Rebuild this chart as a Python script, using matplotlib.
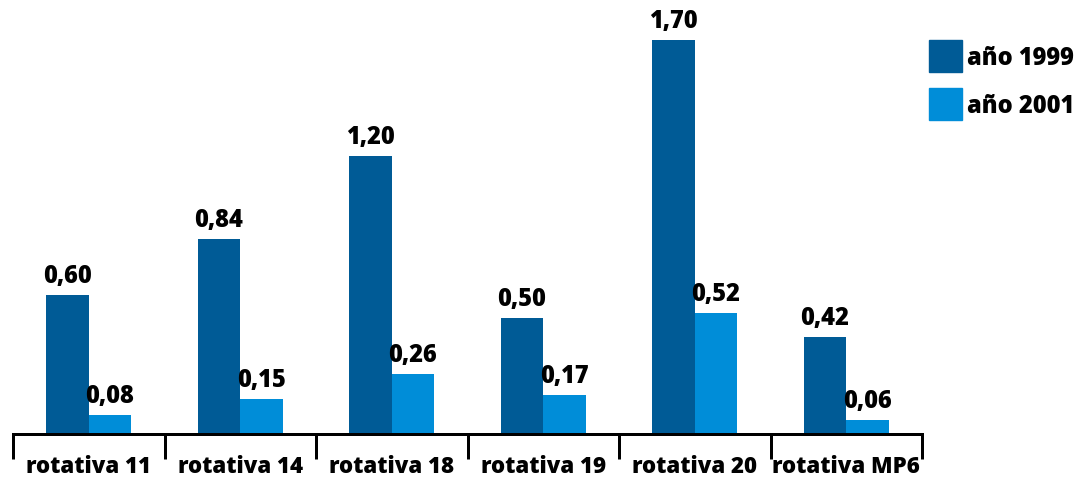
import matplotlib
matplotlib.use("Agg")
import matplotlib.pyplot as plt
from matplotlib.patches import Patch

categories = ["rotativa 11", "rotativa 14", "rotativa 18", "rotativa 19", "rotativa 20", "rotativa MP6"]
values_1999 = [0.60, 0.84, 1.20, 0.50, 1.70, 0.42]
values_2001 = [0.08, 0.15, 0.26, 0.17, 0.52, 0.06]
series_labels = ["año 1999", "año 2001"]
colors = ["#005B96", "#008DD8"]

W, H = 1079, 481
DPI = 100
fig = plt.figure(figsize=(W / DPI, H / DPI), dpi=DPI)
plt.rcParams["font.family"] = ["Open Sans", "DejaVu Sans"]
WEIGHT = 800

def px(v):
    return v * 72.0 / DPI

left, right, top, bottom = 13, 922, 41, 435
ax = fig.add_axes([left / W, (H - bottom) / H, (right - left) / W, (bottom - top) / H])

bw = 0.28
xs = list(range(len(categories)))
x1 = [i + 0.5 - bw for i in xs]
x2 = [i + 0.5 for i in xs]
b1 = ax.bar(x1, values_1999, width=bw, align="edge", color=colors[0], label=series_labels[0])
b2 = ax.bar(x2, values_2001, width=bw, align="edge", color=colors[1], label=series_labels[1])

for bars, vals in ((b1, values_1999), (b2, values_2001)):
    for r, v in zip(bars, vals):
        ax.annotate(f"{v:.2f}".replace(".", ","),
                    xy=(r.get_x() + r.get_width() / 2, v),
                    xytext=(0, px(13)), textcoords="offset points",
                    ha="center", va="baseline", fontsize=17, fontweight=WEIGHT,
                    annotation_clip=False)

ax.set_xlim(0, len(categories))
ax.set_ylim(0, 1.70)

for s in ("left", "right", "top"):
    ax.spines[s].set_visible(False)
ax.spines["bottom"].set_linewidth(px(3))
ax.spines["bottom"].set_color("black")
ax.set_yticks([])

ax.set_xticks(range(len(categories) + 1))
ax.set_xticklabels([])
ax.tick_params(axis="x", which="major", length=px(25), width=px(3), direction="out", color="black")
ax.set_xticks([i + 0.5 for i in xs], minor=True)
ax.set_xticklabels(categories, minor=True, fontsize=16, fontweight=WEIGHT)
ax.tick_params(axis="x", which="minor", length=0, pad=px(20))

leg = fig.legend(handles=[Patch(color=colors[0], label=series_labels[0]),
                          Patch(color=colors[1], label=series_labels[1])],
                 loc="upper left", bbox_to_anchor=(929 / W, 1 - 41 / H),
                 frameon=False, fontsize=17, handlelength=1.4, handleheight=1.71,
                 handletextpad=0.2, labelspacing=0.68, borderpad=0, borderaxespad=0)
for t in leg.get_texts():
    t.set_fontweight(WEIGHT)

fig.savefig("out.png", dpi=DPI)
